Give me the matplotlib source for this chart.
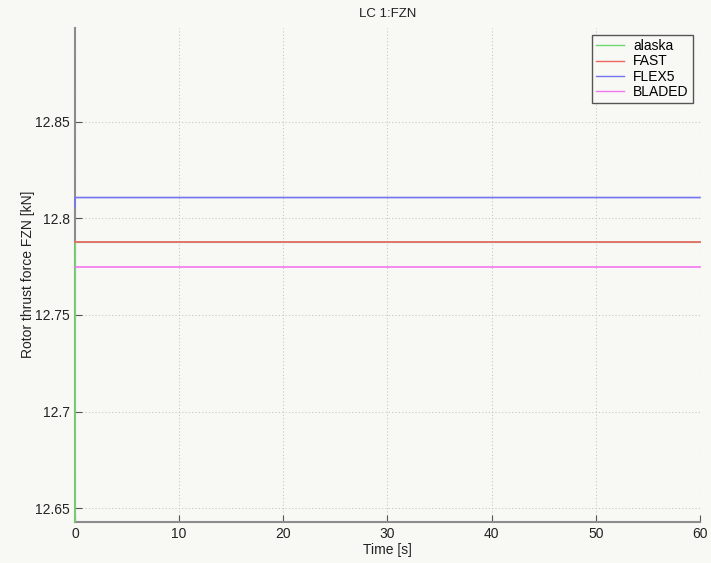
import numpy as np
import matplotlib
matplotlib.use('Agg')
import matplotlib.pyplot as plt

plt.rcParams['font.family'] = ['Liberation Sans', 'DejaVu Sans']

# simulation output, FZN in kN
time = [0.0, 0.02, 60.0]
alaska = [12.6431, 12.7876, 12.7876]
fast = [12.7876, 12.7876, 12.7876]
flex5 = [12.806, 12.8107, 12.8107]
bladed = [12.775, 12.775, 12.775]

series = [('alaska', alaska, '#70d870'),
          ('FAST', fast, '#f06464'),
          ('FLEX5', flex5, '#7474f0'),
          ('BLADED', bladed, '#f276f2')]

bg = '#f8f8f4'
fig = plt.figure(figsize=(7.11, 5.63), dpi=100, facecolor=bg)
ax = fig.add_axes([0.1055, 0.0734, 0.879, 0.877], facecolor=bg)

for name, vals, col in series:
    # unclipped and above the spines so the start-up transient at t=0 shows
    ax.plot(time, vals, color=col, lw=1.2, label=name, zorder=3,
            clip_on=False)

ax.set_xlim(0, 60)
ax.set_ylim(12.6431, 12.8984)
ax.set_xticks(np.arange(0, 61, 10))
ax.set_yticks([12.65, 12.7, 12.75, 12.8, 12.85])
ax.set_yticklabels(['12.65', '12.7', '12.75', '12.8', '12.85'])

ax.grid(True, color='#c8c8c8', linestyle=(0, (1, 2)), lw=0.8)
for side in ['top', 'right']:
    ax.spines[side].set_visible(False)
for side in ['left', 'bottom']:
    ax.spines[side].set_color('#8c8c8c')
    ax.spines[side].set_linewidth(1.5)
    ax.spines[side].set_zorder(2)
ax.tick_params(direction='in', length=5, color='#555555', labelsize=10,
               labelcolor='#222222')

ax.set_title('LC 1:FZN', fontsize=9.5, color='#222222', pad=8)
ax.set_xlabel('Time [s]', fontsize=10, color='#222222', labelpad=2)
ax.set_ylabel('Rotor thrust force FZN [kN]', fontsize=10, color='#222222',
              labelpad=0)

leg = ax.legend(loc='upper right', fontsize=10, frameon=True, fancybox=False,
                handlelength=2.0, borderpad=0.3, labelspacing=0.1,
                handletextpad=0.7, borderaxespad=0.5)
leg.get_frame().set_edgecolor('#555555')
leg.get_frame().set_facecolor(bg)
leg.get_frame().set_alpha(1)
leg.get_frame().set_linewidth(1.0)
for h in leg.get_lines():
    h.set_linewidth(1.0)

fig.savefig('out.png', dpi=100, facecolor=bg)
